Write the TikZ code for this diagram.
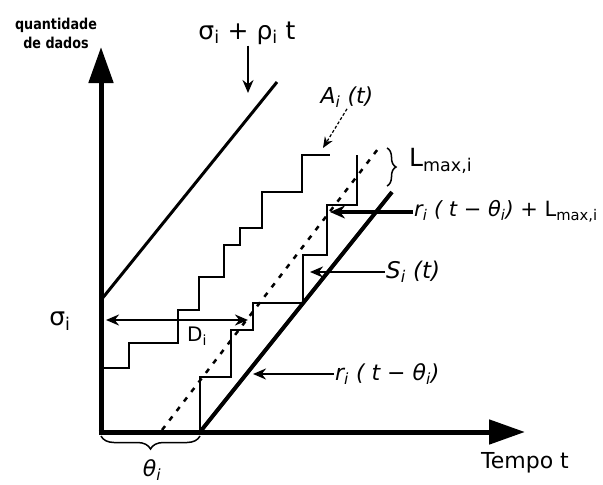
\documentclass[tikz,border=0pt]{standalone}
\usepackage{fontspec}
\setmainfont{DejaVu Sans}
\newfontfamily\qtyfont{DejaVu Sans}[FakeStretch=0.85]
\usetikzlibrary{arrows.meta, decorations.pathreplacing}

\begin{document}
\begin{tikzpicture}[
    x=1pt, y=-1pt,
    >=Stealth,
    axis/.style={line width=5pt, -{Triangle[length=36pt, width=24pt]}},
    bound/.style={line width=3pt},
    stair/.style={line width=1.3pt},
    dotline/.style={line width=2.5pt, dash pattern=on 5pt off 7pt},
    arr/.style={-{Stealth[length=13pt, width=11pt]}, line width=2pt},
    brc/.style={decorate, decoration={brace, amplitude=#1}, line width=1.5pt},
    lbl/.style={font=\fontsize{22}{24}\selectfont, inner sep=1pt},
    ilbl/.style={font=\fontsize{22}{24}\selectfont\itshape, inner sep=1pt},
]
\useasboundingbox (0,0) rectangle (603,485);

%% axes
\coordinate (orig) at (101,432);
\coordinate (ytip) at (101,47);
\coordinate (xtip) at (525,432);
\draw[axis] ([yshift=-2.5pt]orig) -- (ytip);
\draw[axis] ([xshift=-2.5pt]orig) -- (xtip);

\node[font=\fontsize{15}{19}\selectfont\qtyfont\bfseries, align=center, inner sep=0pt] (qty) at (56,33)
    {quantidade\\de dados};
\node[lbl] (tempo) at (525,463) {Tempo t};

%% upper bound sigma + rho t
\coordinate (env0) at (101,300);
\coordinate (env1) at (277,82);
\draw[bound] (env0) -- (env1);
\node[font=\fontsize{25}{27}\selectfont, inner sep=1pt] (envlbl) at (247,33)
    {σ\textsubscript{i} + ρ\textsubscript{i} t};
\coordinate (envtip) at (248,93);
\draw[arr] (envlbl.south -| envtip) -- (envtip);
\node[font=\fontsize{25}{27}\selectfont, inner sep=1pt] (sigma) at (60,321) {σ\textsubscript{i}};

%% latency-rate service curve
\coordinate (srv0) at (200,432);
\coordinate (srv1) at (392,192);
\draw[line width=4pt] (srv0) -- (srv1);
\draw[dotline] (162,430) -- (381,145);

%% arrivals A_i(t) and service S_i(t)
\draw[stair] (101,368) -| (129,343) -| (178,310) -| (199,277) -| (224,245)
    -| (240,228) -| (262,192) -| (302,155) -- (330,155);
\draw[stair] (srv0) |- (231,377) |- (253,330) |- (303,303) |- (327,255)
    |- (357,205) -- (357,155);

%% delay D_i
\coordinate (dl) at (106,320);
\coordinate (dr) at (248,320);
\draw[{Stealth[length=13pt, width=11pt]}-{Stealth[length=13pt, width=11pt]}, line width=2.5pt] (dl) -- (dr);
\node[font=\fontsize{20}{22}\selectfont, inner sep=1pt] (dlbl) at (197,336) {D\textsubscript{i}};

%% theta_i
\draw[brc=13pt] (200,436) -- (101,436);
\node[ilbl] (theta) at (152,470) {θ\textsubscript{i}};

%% L_max,i
\draw[brc=9pt] (387,148) -- (387,186);
\node[lbl, anchor=west, font=\fontsize{25}{27}\selectfont] (lmax) at (408,161) {L\textsubscript{max,i}};

%% labels with arrows
\node[ilbl] (albl) at (347,97) {A\textsubscript{i} (t)};
\coordinate (atip) at (323,148);
\draw[arr, line width=1.2pt, densely dashed, -{Stealth[length=11pt, width=9pt]}] (albl.south) -- (atip);

\node[ilbl, anchor=west, font=\fontsize{21}{23}\selectfont\itshape] (rl) at (413,211)
    {r\textsubscript{i} ( t − θ\textsubscript{i}) {\upshape+ L\textsubscript{max,i}}};
\coordinate (rltip) at (330,212);
\draw[arr, line width=4pt, -{Stealth[length=15pt, width=13pt]}] (rltip -| rl.west) -- (rltip);

\node[ilbl, anchor=west, font=\fontsize{23}{25}\selectfont\itshape] (slbl) at (385,272) {S\textsubscript{i} (t)};
\coordinate (stip) at (310,272);
\draw[arr, line width=2.5pt] (stip -| slbl.west) -- (stip);

\node[ilbl, anchor=west] (rlbl) at (334,374) {r\textsubscript{i} ( t − θ\textsubscript{i})};
\coordinate (rtip) at (253,374);
\draw[arr] (rtip -| rlbl.west) -- (rtip);

\end{tikzpicture}
\end{document}
